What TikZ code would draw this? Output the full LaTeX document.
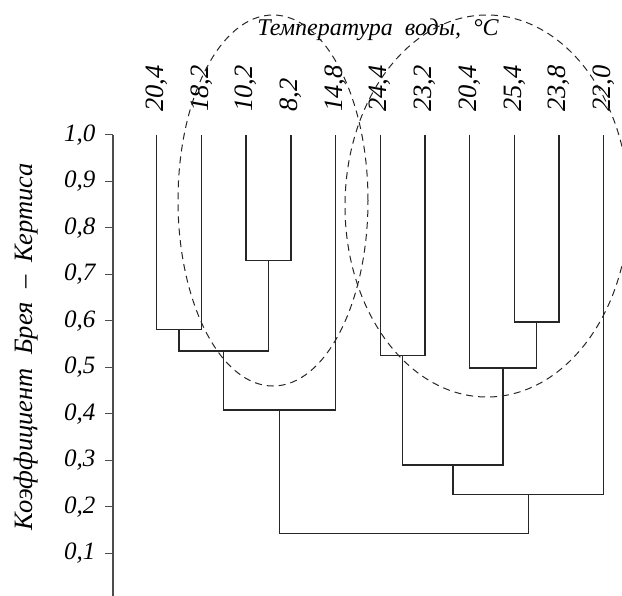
\documentclass[tikz,border=0pt]{standalone}
\usepackage{fontspec}
\setmainfont{Liberation Serif}
\begin{document}
\begin{tikzpicture}
  [x=1pt,y=465pt,
   every node/.style={font=\itshape\fontsize{25}{25}\selectfont, inner sep=0pt},
   leaf/.style={font=\itshape\fontsize{26.5}{26.5}\selectfont, rotate=90, anchor=west},
   link/.style={line width=1.4pt, draw=black!85},
   grp/.style={dash pattern=on 7pt off 5pt, line width=1pt, draw=black!85}]
  \useasboundingbox (0,0.008) rectangle (622,1.2897);
  \clip (0,0.008) rectangle (622,1.2897);

  % axis
  \coordinate (ytop) at (113,1.0);
  \coordinate (ybot) at (113,0.008);
  \draw[line width=1.8pt, black!70] (ytop) -- (ybot);
  \foreach \v/\t in {1.0/{1,0},0.9/{0,9},0.8/{0,8},0.7/{0,7},0.6/{0,6},
                     0.5/{0,5},0.4/{0,4},0.3/{0,3},0.2/{0,2},0.1/{0,1}}
  {
    \draw[line width=1.3pt, black!70] (105,\v) -- (113,\v);
    \node[anchor=east] (tick\t) at (95.5,\v) {\t};
  }
  \node[rotate=90, font=\itshape\fontsize{26.5}{26.5}\selectfont] (ylab) at (26,0.5435)
    {Коэффициент\ \ Брея\ \ –\ \ Кертиса};

  % leaves
  \foreach \t [count=\i] in {{20,4},{18,2},{10,2},{8,2},{14,8},{24,4},
                             {23,2},{20,4},{25,4},{23,8},{22,0}}
  {
    \coordinate (l\i) at ({156.7+44.7*(\i-1)},1.0);
    \node[leaf] (n\i) at ({156.7+44.7*(\i-1)},1.049) {\t};
  }
  \node[anchor=base, font=\itshape\fontsize{24}{24}\selectfont] (ttl) at (378,1.2144)
    {Температура\ \ воды,\ \ °C};

  % merges
  \coordinate (m12) at (179.05,0.581);
  \coordinate (m34) at (268.45,0.729);
  \coordinate (m1234) at (223.75,0.535);
  \coordinate (mA) at (279.6,0.408);
  \coordinate (m67) at (402.55,0.525);
  \coordinate (m910) at (536.65,0.597);
  \coordinate (m8910) at (503.1,0.498);
  \coordinate (m610) at (452.8,0.290);
  \coordinate (mB) at (528.25,0.226);
  \coordinate (root) at (403.9,0.143);

  \draw[link] (l1) |- (m12) -| (l2);
  \draw[link] (l3) |- (m34) -| (l4);
  \draw[link] (m12) |- (m1234) -| (m34);
  \draw[link] (m1234) |- (mA) -| (l5);
  \draw[link] (l6) |- (m67) -| (l7);
  \draw[link] (l9) |- (m910) -| (l10);
  \draw[link] (l8) |- (m8910) -| (m910);
  \draw[link] (m67) |- (m610) -| (m8910);
  \draw[link] (m610) |- (mB) -| (l11);
  \draw[link] (mA) |- (root) -| (mB);

  % groups
  \coordinate (cL) at (273,0.8585);
  \coordinate (cR) at (487,0.8467);
  \draw[grp] (cL) ellipse [x radius=95pt, y radius=185.5pt];
  \draw[grp] (cR) ellipse [x radius=142pt, y radius=191pt];

\end{tikzpicture}
\end{document}
